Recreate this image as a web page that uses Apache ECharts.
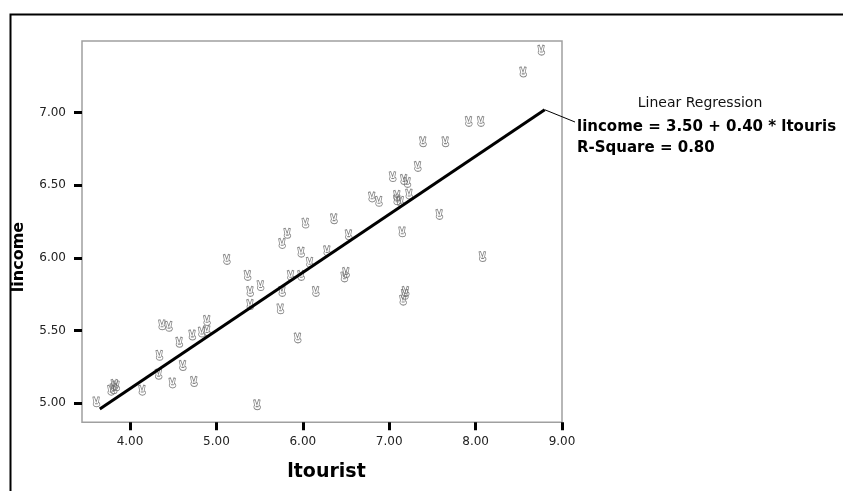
<!DOCTYPE html>
<html>
<head>
<meta charset="utf-8">
<script src="https://cdn.jsdelivr.net/npm/echarts@6/dist/echarts.min.js"></script>
<style>
html,body{margin:0;padding:0;background:#fff;}
#chart{width:843px;height:491px;}
</style>
</head>
<body>
<div id="chart"></div>
<script>
// ---- data ----
const xTickValues = [4, 5, 6, 7, 8, 9];
const yTickValues = [5, 5.5, 6, 6.5, 7];
const ltourist = [3.61, 3.78, 3.81, 3.84, 3.82, 4.14, 4.34, 4.33, 4.37, 4.45, 4.49, 4.57, 4.61, 4.72, 4.74, 4.83, 4.89, 4.89, 5.12, 5.36, 5.39, 5.51, 5.39, 5.47, 5.76, 5.82, 5.76, 5.74, 5.86, 5.98, 6.08, 5.98, 6.15, 5.94, 6.28, 6.03, 6.36, 6.53, 6.50, 6.48, 6.80, 6.88, 7.04, 7.09, 7.09, 7.13, 7.17, 7.21, 7.23, 7.33, 7.39, 7.65, 7.92, 8.06, 7.58, 7.15, 8.08, 7.18, 7.16, 7.19, 8.55, 8.76];
const lincome  = [5.01, 5.09, 5.10, 5.12, 5.13, 5.09, 5.33, 5.20, 5.54, 5.53, 5.14, 5.42, 5.26, 5.47, 5.15, 5.49, 5.50, 5.57, 5.99, 5.88, 5.77, 5.81, 5.68, 4.99, 6.10, 6.17, 5.77, 5.65, 5.88, 6.04, 5.97, 5.88, 5.77, 5.45, 6.05, 6.24, 6.27, 6.16, 5.90, 5.87, 6.42, 6.39, 6.56, 6.43, 6.40, 6.39, 6.54, 6.52, 6.44, 6.63, 6.80, 6.80, 6.94, 6.94, 6.30, 6.18, 6.01, 5.75, 5.71, 5.77, 7.28, 7.43];
const fitX = [3.65, 8.80];
const fitY = [4.96, 7.02];
const legendTitle = 'Linear Regression';
const equationText = 'lincome = 3.50 + 0.40 * ltouris';
const rsqText = 'R-Square = 0.80';
const xName = 'ltourist';
const yName = 'lincome';

const points = ltourist.map((x, i) => [x, lincome[i]]);
const fitLine = fitX.map((x, i) => [x, fitY[i]]);

const handPath = 'path://M2,8 L0.8,1.2 L2.6,0.6 L4.6,7 L6.4,0.6 L8.2,1.2 L7,8 C9.5,8.5 9.5,13.5 5,13.5 C1,13.5 0.5,9 2,8 Z M3.2,9.5 L6.5,9.5';

const chart = echarts.init(document.getElementById('chart'), null, {renderer: 'canvas'});
const labelFont = {fontFamily: 'DejaVu Sans', fontSize: 12, color: '#222'};
const option = {
  animation: false,
  backgroundColor: '#fff',
  grid: {left: 82, top: 41, width: 480, height: 381.3, show: true, borderColor: '#a0a0a0', borderWidth: 1.5, backgroundColor: '#fff'},
  xAxis: {
    type: 'value', min: 3.444, max: 9,
    axisLine: {show: false}, splitLine: {show: false},
    axisTick: {show: true, customValues: xTickValues, length: 8, lineStyle: {color: '#000', width: 3}},
    axisLabel: Object.assign({customValues: xTickValues, margin: 14, formatter: v => v.toFixed(2)}, labelFont),
    name: xName, nameLocation: 'middle', nameGap: 40,
    nameTextStyle: {fontFamily: 'DejaVu Sans', fontWeight: 'bold', fontSize: 19, color: '#000', padding: [0, 0, 0, 9]}
  },
  yAxis: {
    type: 'value', min: 4.869, max: 7.493,
    axisLine: {show: false}, splitLine: {show: false},
    axisTick: {show: true, customValues: yTickValues, length: 8, lineStyle: {color: '#000', width: 3}},
    axisLabel: Object.assign({customValues: yTickValues, margin: 16, formatter: v => v.toFixed(2)}, labelFont)
  },
  series: [
    {
      type: 'scatter', data: points, symbol: handPath, symbolSize: [7, 10],
      itemStyle: {color: 'rgba(255,255,255,0)', borderColor: '#6a6a6a', borderWidth: 0.9},
      z: 3
    },
    {
      type: 'line', data: fitLine, showSymbol: false, symbol: 'none',
      lineStyle: {color: '#000', width: 3}, z: 4
    }
  ]
};
chart.setOption(option);

const endPx = chart.convertToPixel({gridIndex: 0}, fitLine[fitLine.length - 1]);
chart.setOption({
  graphic: [
    {type: 'rect', shape: {x: 10.5, y: 14.5, width: 900, height: 600}, style: {fill: 'none', stroke: '#000', lineWidth: 2}, silent: true, z: 10},
    {type: 'line', shape: {x1: endPx[0], y1: endPx[1], x2: 575, y2: 122}, style: {stroke: '#000', lineWidth: 1}, z: 10},
    {type: 'text', x: 700, y: 103, style: {text: legendTitle, font: '14px "DejaVu Sans"', fill: '#111', align: 'center', verticalAlign: 'middle'}, z: 10},
    {type: 'text', x: 577, y: 127, style: {text: equationText, font: 'bold 15px "DejaVu Sans"', fill: '#000', align: 'left', verticalAlign: 'middle'}, z: 10},
    {type: 'text', x: 577, y: 148, style: {text: rsqText, font: 'bold 15px "DejaVu Sans"', fill: '#000', align: 'left', verticalAlign: 'middle'}, z: 10},
    {type: 'text', x: 19, y: 257, rotation: Math.PI / 2, style: {text: yName, font: 'bold 16px "DejaVu Sans"', fill: '#000', align: 'center', verticalAlign: 'middle'}, z: 10}
  ]
});
</script>
</body>
</html>
